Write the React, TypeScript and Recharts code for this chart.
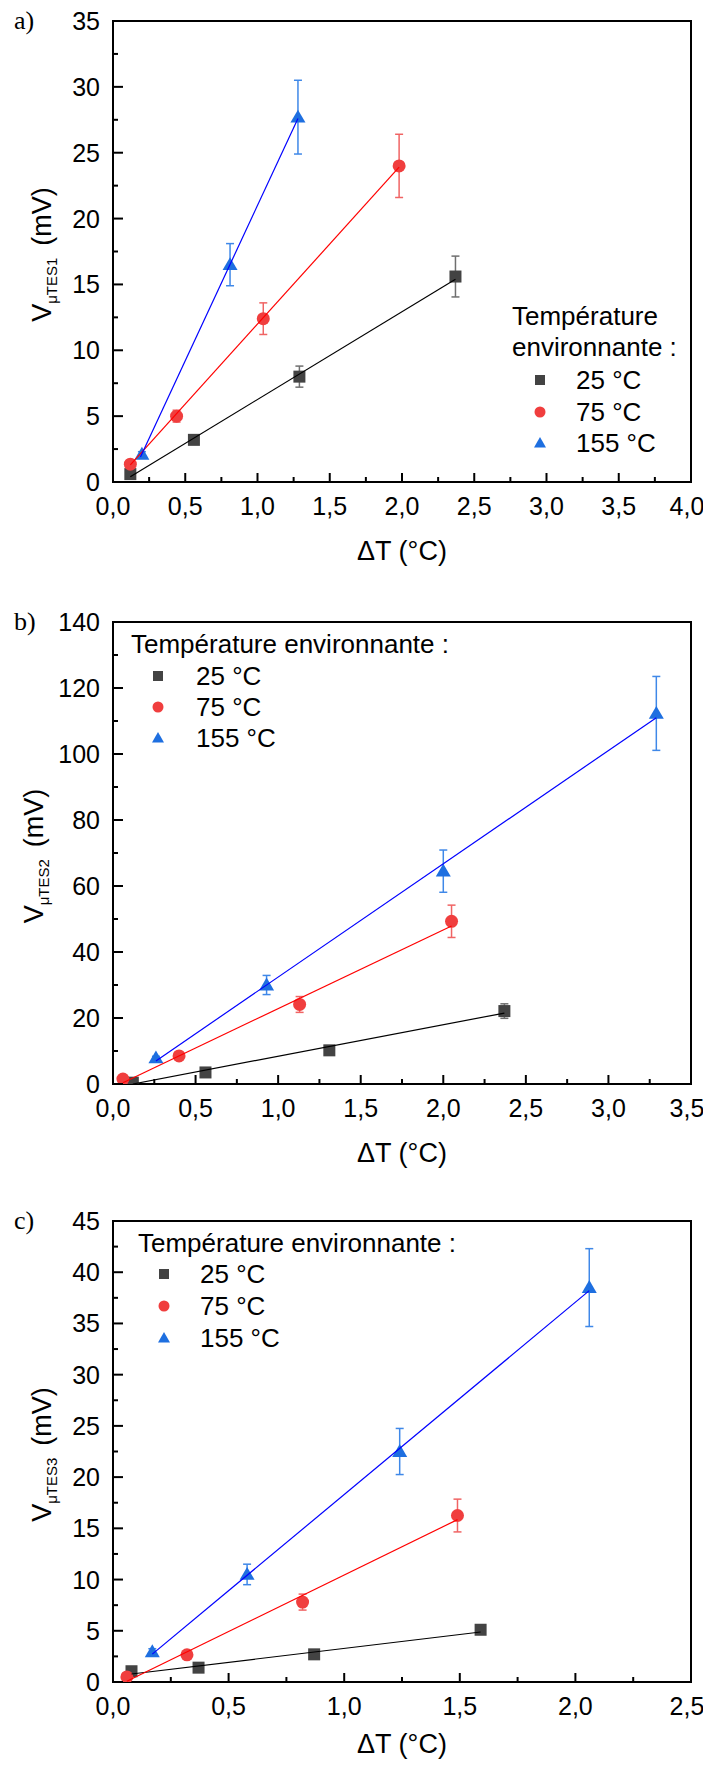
import * as React from "react";
import {
  ScatterChart,
  Scatter,
  XAxis,
  YAxis,
  ErrorBar,
  ReferenceArea,
  Legend,
} from "recharts";

const SANS = '"Liberation Sans", Arial, sans-serif';
const SERIF = '"Liberation Serif", "Times New Roman", serif';

const BLACK = "#434343";
const RED = "#f03e3e";
const BLUE = "#1e6fe0";
const BLACK_ERR = "#6f6f6f";
const RED_ERR = "#f06464";
const BLUE_ERR = "#3f88e8";
const BLACK_FIT = "#000000";
const RED_FIT = "#ff0000";
const BLUE_FIT = "#0000ff";

const legendTitle = "Température environnante :";
const legendLabels = ["25 °C", "75 °C", "155 °C"];

// a) V uTES1
const a25 = [
  { x: 0.12, y: 0.6, err: 0.2 },
  { x: 0.56, y: 3.2, err: 0.2 },
  { x: 1.29, y: 8.0, err: 0.8 },
  { x: 2.37, y: 15.6, err: 1.55 },
];
const a75 = [
  { x: 0.12, y: 1.35, err: 0.2 },
  { x: 0.44, y: 5.0, err: 0.45 },
  { x: 1.04, y: 12.4, err: 1.2 },
  { x: 1.98, y: 24.0, err: 2.4 },
];
const a155 = [
  { x: 0.2, y: 2.1, err: 0.2 },
  { x: 0.81, y: 16.5, err: 1.6 },
  { x: 1.28, y: 27.7, err: 2.8 },
];
const a25Fit = [
  { x: 0.12, y: 0.4 },
  { x: 2.37, y: 15.4 },
];
const a75Fit = [
  { x: 0.12, y: 1.3 },
  { x: 1.98, y: 23.9 },
];
const a155Fit = [
  { x: 0.19, y: 1.9 },
  { x: 1.28, y: 27.6 },
];

// b) V uTES2
const b25 = [
  { x: 0.12, y: 0.4, err: 0.3 },
  { x: 0.56, y: 3.5, err: 0.3 },
  { x: 1.31, y: 10.2, err: 0.5 },
  { x: 2.37, y: 22.1, err: 2.2 },
];
const b75 = [
  { x: 0.06, y: 1.5, err: 0.3 },
  { x: 0.4, y: 8.5, err: 0.5 },
  { x: 1.13, y: 24.1, err: 2.4 },
  { x: 2.05, y: 49.3, err: 4.9 },
];
const b155 = [
  { x: 0.26, y: 7.9, err: 0.5 },
  { x: 0.93, y: 30.0, err: 2.9 },
  { x: 2.0, y: 64.5, err: 6.4 },
  { x: 3.29, y: 112.3, err: 11.2 },
];
const b25Fit = [
  { x: 0.12, y: 0 },
  { x: 2.37, y: 21.5 },
];
const b75Fit = [
  { x: 0.06, y: 0.4 },
  { x: 2.05, y: 47.9 },
];
const b155Fit = [
  { x: 0.26, y: 7.0 },
  { x: 3.29, y: 111 },
];

// c) V uTES3
const c25 = [
  { x: 0.08, y: 1.05, err: 0.1 },
  { x: 0.37, y: 1.4, err: 0.1 },
  { x: 0.87, y: 2.7, err: 0.2 },
  { x: 1.59, y: 5.1, err: 0.3 },
];
const c75 = [
  { x: 0.06, y: 0.5, err: 0.1 },
  { x: 0.32, y: 2.65, err: 0.2 },
  { x: 0.82, y: 7.8, err: 0.78 },
  { x: 1.49, y: 16.25, err: 1.6 },
];
const c155 = [
  { x: 0.17, y: 2.95, err: 0.3 },
  { x: 0.58, y: 10.5, err: 1.0 },
  { x: 1.24, y: 22.5, err: 2.25 },
  { x: 2.06, y: 38.5, err: 3.8 },
];
const c25Fit = [
  { x: 0.08, y: 0.78 },
  { x: 1.59, y: 4.88 },
];
const c75Fit = [
  { x: 0.06, y: 0.07 },
  { x: 1.49, y: 15.85 },
];
const c155Fit = [
  { x: 0.17, y: 2.72 },
  { x: 2.06, y: 38.2 },
];

// ticks
const aXMajor = [0, 0.5, 1, 1.5, 2, 2.5, 3, 3.5, 4];
const aXMinor = [0.25, 0.75, 1.25, 1.75, 2.25, 2.75, 3.25, 3.75];
const aYMajor = [0, 5, 10, 15, 20, 25, 30, 35];
const aYMinor = [2.5, 7.5, 12.5, 17.5, 22.5, 27.5, 32.5];

const bXMajor = [0, 0.5, 1, 1.5, 2, 2.5, 3, 3.5];
const bXMinor = [0.25, 0.75, 1.25, 1.75, 2.25, 2.75, 3.25];
const bYMajor = [0, 20, 40, 60, 80, 100, 120, 140];
const bYMinor = [10, 30, 50, 70, 90, 110, 130];

const cXMajor = [0, 0.5, 1, 1.5, 2, 2.5];
const cXMinor = [0.25, 0.75, 1.25, 1.75, 2.25];
const cYMajor = [0, 5, 10, 15, 20, 25, 30, 35, 40, 45];
const cYMinor = [2.5, 7.5, 12.5, 17.5, 22.5, 27.5, 32.5, 37.5, 42.5];

const isIn = (list: number[], v: number) => list.some((m) => Math.abs(m - v) < 1e-9);
const fmtX = (v: number) => v.toFixed(1).replace(".", ",");

const squareShape = (size: number) => (p: any) =>
  p.cx == null ? <g /> : (
    <rect x={p.cx - size / 2} y={p.cy - size / 2} width={size} height={size} fill={BLACK} />
  );
const circleShape = (r: number) => (p: any) =>
  p.cx == null ? <g /> : <circle cx={p.cx} cy={p.cy} r={r} fill={RED} />;
const triangleShape = (w: number) => (p: any) =>
  p.cx == null ? <g /> : (
    <polygon
      points={`${p.cx},${p.cy - w / 2} ${p.cx + w / 2},${p.cy + w * 0.36} ${p.cx - w / 2},${p.cy + w * 0.36}`}
      fill={BLUE}
    />
  );
const noShape = () => <g />;

const renderXTick = (majors: number[]) => (p: any) => {
  const { x, y, payload } = p;
  const major = isIn(majors, payload.value);
  // last label sits a bit inward so it stays on the page
  const lx = Math.min(x, 687);
  return (
    <g>
      <line x1={x} x2={x} y1={y} y2={y - (major ? 9 : 5)} stroke="#000" strokeWidth={2} />
      {major && (
        <text x={lx} y={y + 33} textAnchor="middle" fontSize={25} fontFamily={SANS} fill="#000">
          {fmtX(payload.value)}
        </text>
      )}
    </g>
  );
};

const renderYTick = (majors: number[]) => (p: any) => {
  const { x, y, payload } = p;
  const major = isIn(majors, payload.value);
  return (
    <g>
      <line x1={x} x2={x + (major ? 10 : 5)} y1={y} y2={y} stroke="#000" strokeWidth={2} />
      {major && (
        <text x={x - 13} y={y + 9} textAnchor="end" fontSize={25} fontFamily={SANS} fill="#000">
          {payload.value}
        </text>
      )}
    </g>
  );
};

const renderXTitle = (gap: number) => (p: any) => {
  const vb = p.viewBox || {};
  const cx = (vb.x ?? 113) + (vb.width ?? 578) / 2;
  const y = (vb.y ?? 482) + gap;
  return (
    <text x={cx} y={y} textAnchor="middle" fontSize={27} fontFamily={SANS} fill="#000">
      ΔT (°C)
    </text>
  );
};

const renderYTitle = (sub: string, letter: string, titleX: number, top: number) => (p: any) => {
  const vb = p.viewBox || {};
  const cy = (vb.y ?? top) + (vb.height ?? 461) / 2 + 3;
  return (
    <g>
      <text
        x={titleX}
        y={cy}
        transform={`rotate(-90 ${titleX} ${cy})`}
        textAnchor="middle"
        fontSize={27}
        fontFamily={SANS}
        fill="#000"
      >
        V
        <tspan fontSize={15} dy={6}>
          {sub}
        </tspan>
        <tspan dx={12} dy={-6}>
          (mV)
        </tspan>
      </text>
      <text x={14} y={top + 8} fontSize={26} fontFamily={SERIF} fill="#000">
        {letter}
      </text>
    </g>
  );
};

type LegendBox = {
  left: number;
  top: number;
  titleLines: string[];
  titleX: number;
  titleY: number;
  markerX: number;
  textX: number;
  rowY: number[];
};

const renderLegend = (box: LegendBox) => () => (
  <svg width={180} height={160} style={{ display: "block", overflow: "visible" }}>
    {box.titleLines.map((t, i) => (
      <text key={t} x={box.titleX} y={box.titleY + i * 31} fontSize={26} fontFamily={SANS} fill="#000">
        {t}
      </text>
    ))}
    <rect x={box.markerX - 5} y={box.rowY[0] - 5} width={10} height={10} fill={BLACK} />
    <circle cx={box.markerX} cy={box.rowY[1]} r={5.5} fill={RED} />
    <polygon
      points={`${box.markerX},${box.rowY[2] - 6} ${box.markerX + 6},${box.rowY[2] + 4.5} ${box.markerX - 6},${box.rowY[2] + 4.5}`}
      fill={BLUE}
    />
    {legendLabels.map((l, i) => (
      <text key={l} x={box.textX} y={box.rowY[i] + 9} fontSize={26} fontFamily={SANS} fill="#000">
        {l}
      </text>
    ))}
  </svg>
);

type PanelProps = {
  height: number;
  margin: { top: number; right: number; bottom: number; left: number };
  xAxisHeight: number;
  xTitleGap: number;
  xDomain: [number, number];
  yDomain: [number, number];
  xMajor: number[];
  xMinor: number[];
  yMajor: number[];
  yMinor: number[];
  s25: any[];
  s75: any[];
  s155: any[];
  f25: any[];
  f75: any[];
  f155: any[];
  sub: string;
  letter: string;
  titleX: number;
  legend: LegendBox;
};

function Panel(props: PanelProps) {
  const xTicks = [...props.xMajor, ...props.xMinor].sort((a, b) => a - b);
  const yTicks = [...props.yMajor, ...props.yMinor].sort((a, b) => a - b);
  return (
    <ScatterChart width={711} height={props.height} margin={props.margin}>
      <XAxis
        type="number"
        dataKey="x"
        domain={props.xDomain}
        ticks={xTicks}
        interval={0}
        tickSize={0}
        tickMargin={0}
        tickLine={false}
        axisLine={{ stroke: "#000", strokeWidth: 2 }}
        height={props.xAxisHeight}
        tick={renderXTick(props.xMajor)}
        label={renderXTitle(props.xTitleGap)}
        allowDataOverflow
      />
      <YAxis
        type="number"
        dataKey="y"
        domain={props.yDomain}
        ticks={yTicks}
        interval={0}
        tickSize={0}
        tickMargin={0}
        tickLine={false}
        axisLine={{ stroke: "#000", strokeWidth: 2 }}
        width={113}
        tick={renderYTick(props.yMajor)}
        label={renderYTitle(props.sub, props.letter, props.titleX, props.margin.top)}
        allowDataOverflow
      />
      <ReferenceArea
        x1={props.xDomain[0]}
        x2={props.xDomain[1]}
        y1={props.yDomain[0]}
        y2={props.yDomain[1]}
        fill="none"
        fillOpacity={0}
        stroke="#000"
        strokeWidth={2}
      />
      <Scatter name="25 °C" data={props.s25} shape={squareShape(12)} isAnimationActive={false}>
        <ErrorBar dataKey="err" direction="y" width={4} stroke={BLACK_ERR} strokeWidth={1.5} />
      </Scatter>
      <Scatter name="75 °C" data={props.s75} shape={circleShape(6.5)} isAnimationActive={false}>
        <ErrorBar dataKey="err" direction="y" width={4} stroke={RED_ERR} strokeWidth={1.5} />
      </Scatter>
      <Scatter name="155 °C" data={props.s155} shape={triangleShape(15)} isAnimationActive={false}>
        <ErrorBar dataKey="err" direction="y" width={4} stroke={BLUE_ERR} strokeWidth={1.5} />
      </Scatter>
      <Scatter
        data={props.f25}
        line={{ stroke: BLACK_FIT, strokeWidth: 1.2 }}
        shape={noShape}
        legendType="none"
        isAnimationActive={false}
      />
      <Scatter
        data={props.f75}
        line={{ stroke: RED_FIT, strokeWidth: 1.2 }}
        shape={noShape}
        legendType="none"
        isAnimationActive={false}
      />
      <Scatter
        data={props.f155}
        line={{ stroke: BLUE_FIT, strokeWidth: 1.2 }}
        shape={noShape}
        legendType="none"
        isAnimationActive={false}
      />
      <Legend
        layout="horizontal"
        align="center"
        verticalAlign="middle"
        content={renderLegend(props.legend)}
        wrapperStyle={{ left: props.legend.left, top: props.legend.top, width: 180, height: 160 }}
      />
    </ScatterChart>
  );
}

export default function App() {
  return (
    <div
      style={{
        position: "relative",
        width: 711,
        height: 1769,
        margin: -8,
        overflow: "hidden",
        background: "#fff",
        fontFamily: SANS,
      }}
    >
      <div style={{ position: "absolute", left: 0, top: 0 }}>
        <Panel
          height={600}
          margin={{ top: 21, right: 20, bottom: 18, left: 0 }}
          xAxisHeight={100}
          xTitleGap={78}
          xDomain={[0, 4]}
          yDomain={[0, 35]}
          xMajor={aXMajor}
          xMinor={aXMinor}
          yMajor={aYMajor}
          yMinor={aYMinor}
          s25={a25}
          s75={a75}
          s155={a155}
          f25={a25Fit}
          f75={a75Fit}
          f155={a155Fit}
          sub="μTES1"
          letter="a)"
          titleX={51}
          legend={{
            left: 500,
            top: 295,
            titleLines: ["Température", "environnante :"],
            titleX: 12,
            titleY: 30,
            markerX: 40,
            textX: 76,
            rowY: [85, 117, 148],
          }}
        />
      </div>
      <div style={{ position: "absolute", left: 0, top: 600 }}>
        <Panel
          height={600}
          margin={{ top: 22, right: 20, bottom: 16, left: 0 }}
          xAxisHeight={100}
          xTitleGap={78}
          xDomain={[0, 3.5]}
          yDomain={[0, 140]}
          xMajor={bXMajor}
          xMinor={bXMinor}
          yMajor={bYMajor}
          yMinor={bYMinor}
          s25={b25}
          s75={b75}
          s155={b155}
          f25={b25Fit}
          f75={b75Fit}
          f155={b155Fit}
          sub="μTES2"
          letter="b)"
          titleX={43}
          legend={{
            left: 120,
            top: 25,
            titleLines: [legendTitle],
            titleX: 11,
            titleY: 28,
            markerX: 38,
            textX: 76,
            rowY: [51, 82, 113],
          }}
        />
      </div>
      <div style={{ position: "absolute", left: 0, top: 1200 }}>
        <Panel
          height={569}
          margin={{ top: 21, right: 20, bottom: 17, left: 0 }}
          xAxisHeight={70}
          xTitleGap={71}
          xDomain={[0, 2.5]}
          yDomain={[0, 45]}
          xMajor={cXMajor}
          xMinor={cXMinor}
          yMajor={cYMajor}
          yMinor={cYMinor}
          s25={c25}
          s75={c75}
          s155={c155}
          f25={c25Fit}
          f75={c75Fit}
          f155={c155Fit}
          sub="μTES3"
          letter="c)"
          titleX={51}
          legend={{
            left: 125,
            top: 25,
            titleLines: [legendTitle],
            titleX: 13,
            titleY: 27,
            markerX: 39,
            textX: 75,
            rowY: [49, 81, 113],
          }}
        />
      </div>
    </div>
  );
}
